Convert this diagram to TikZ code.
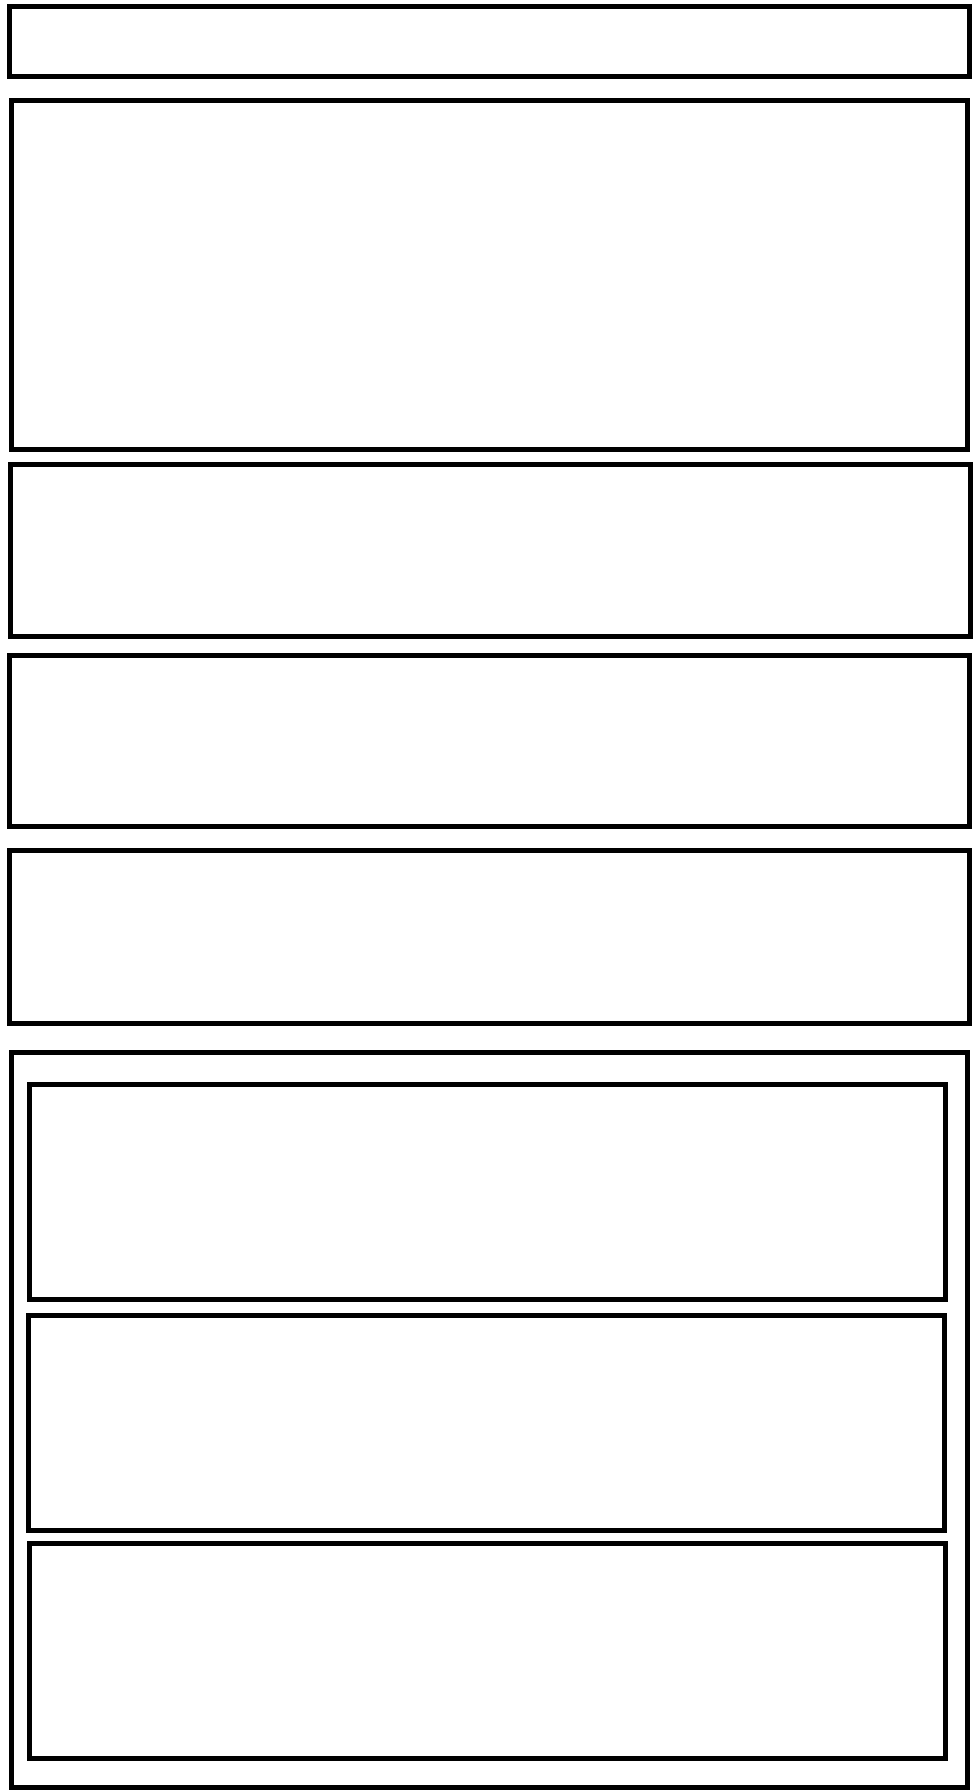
\documentclass[tikz,border=0pt]{standalone}
\usepackage{tikz}

\begin{document}
\begin{tikzpicture}[
        x=1pt, y=-1pt,
        every node/.style={draw, line width=5pt, inner sep=0pt, outer sep=0pt},
        panel/.style={minimum width=960pt},
        inpanel/.style={minimum width=916pt, minimum height=215pt}
      ]
        \useasboundingbox (0,0) rectangle (980,1792);
        \node[panel, minimum height=70pt]  (title)  at (489.5,41.8)  {};
        \node[panel, minimum width=956pt, minimum height=349pt] (intro) at (489.4,275) {};
        \node[panel, minimum height=172.6pt] (secA) at (490.5,550.6) {};
        \node[panel, minimum height=171.5pt] (secB) at (489.4,741)   {};
        \node[panel, minimum height=172.6pt] (secC) at (489,937.1)   {};
        \node[panel, minimum width=956pt, minimum height=735.3pt] (group) at (489.4,1419.7) {};
        \node[inpanel] (partA) at (487.7,1191.5) {};
        \node[inpanel] (partB) at (486.6,1422.5) {};
        \node[inpanel] (partC) at (487.7,1651.2) {};
      \end{tikzpicture}
\end{document}
